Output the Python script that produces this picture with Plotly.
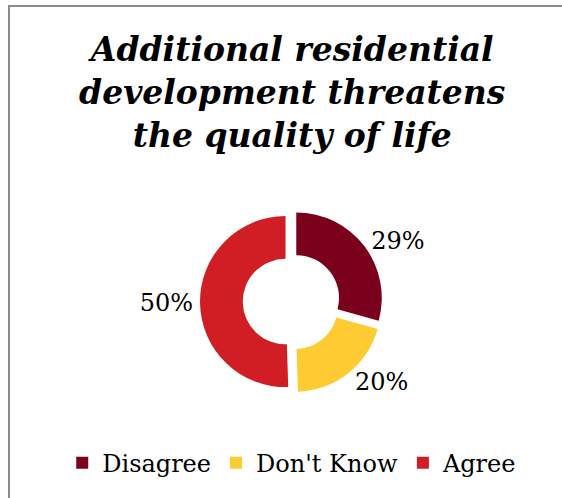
import plotly.graph_objects as go

# Survey responses
categories = ["Disagree", "Don't Know", "Agree"]
values = [29, 20, 50]
colors = ["#7B001C", "#FFCB32", "#D01E24"]
labels = [f"{v}%" for v in values]

W, H = 562, 498

fig = go.Figure(
    go.Pie(
        labels=categories,
        values=values,
        text=labels,
        textinfo="text",
        textposition="outside",
        hole=0.5,
        pull=0.07,
        sort=False,
        direction="clockwise",
        rotation=0,
        marker=dict(colors=colors, line=dict(width=0)),
        outsidetextfont=dict(family="DejaVu Serif", size=24, color="#000000"),
        domain=dict(x=[0.3559, 0.6815], y=[0.2108, 0.5783]),
        hoverinfo="label+percent",
    )
)

fig.update_layout(
    width=W,
    height=H,
    margin=dict(l=0, r=0, t=0, b=0),
    paper_bgcolor="white",
    plot_bgcolor="white",
    title=dict(
        text="<b><i>Additional residential<br>development threatens<br>the quality of life</i></b>",
        font=dict(family="DejaVu Serif", size=33, color="#000000"),
        x=0.52,
        xanchor="center",
        y=0.878,
        yanchor="top",
    ),
    legend=dict(
        orientation="h",
        x=0.52,
        xanchor="center",
        y=0.07,
        yanchor="middle",
        font=dict(family="DejaVu Serif", size=24, color="#000000"),
        itemwidth=30,
        itemsizing="constant",
    ),
    shapes=[
        dict(
            type="rect",
            xref="paper",
            yref="paper",
            x0=9 / W,
            x1=1.1,
            y0=-0.1,
            y1=1 - 6 / H,
            line=dict(color="#8C8C8C", width=2),
            fillcolor="rgba(0,0,0,0)",
            layer="below",
        )
    ],
)

fig.write_html("out.html")
